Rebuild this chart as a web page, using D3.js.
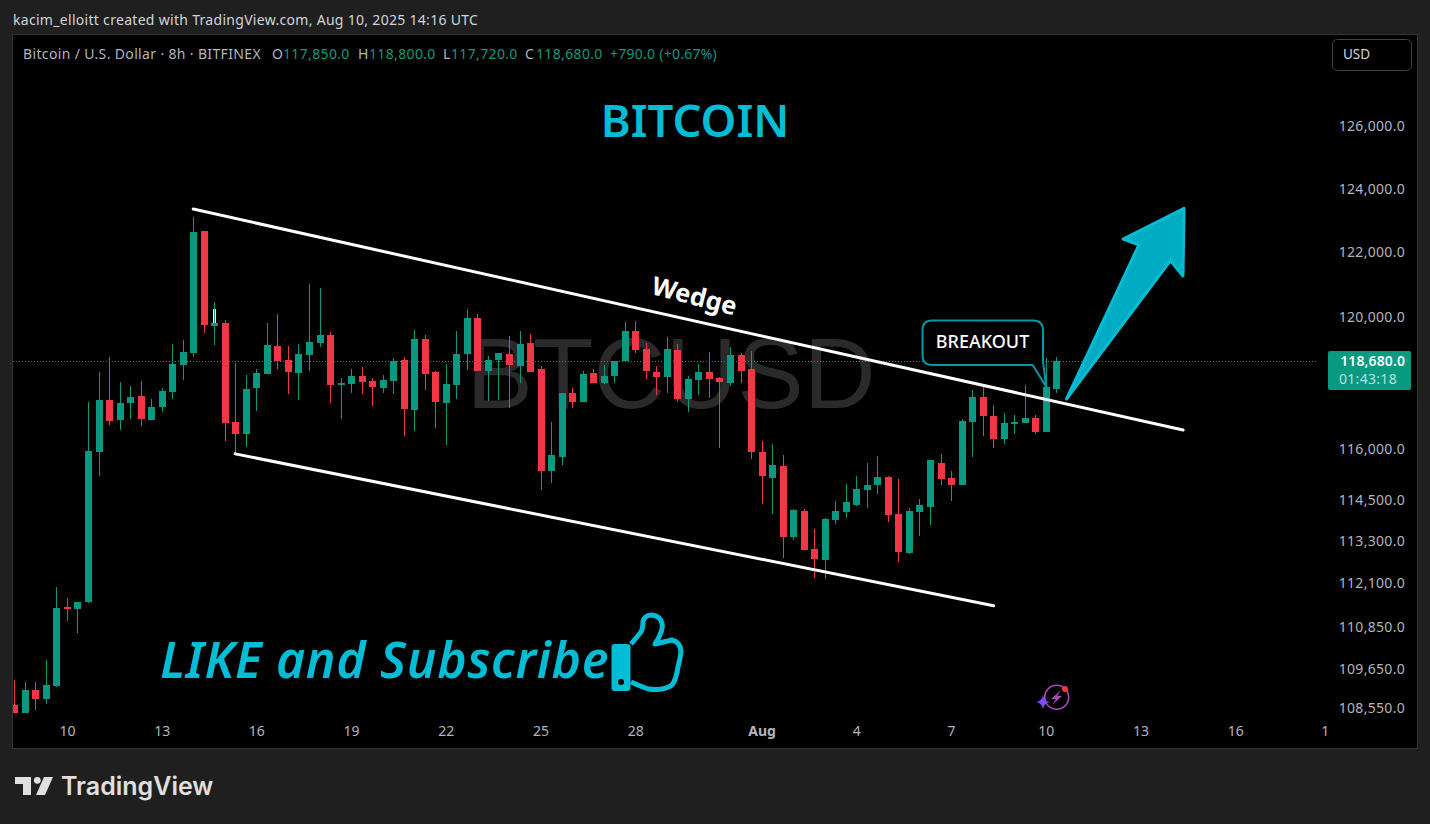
<!DOCTYPE html>
<html>
<head>
<meta charset="utf-8">
<script src="https://cdn.jsdelivr.net/npm/d3@7"></script>
<style>
    html, body { margin: 0; padding: 0; background: #1f1f1f; overflow: hidden; }
    svg { display: block; }
    text { font-family: "Noto Sans", sans-serif; }
</style>
</head>
<body>
<svg id="chart" width="1430" height="824"></svg>
<script>
// 8h candles, bar 0 is the one cut by the left edge
const opens = [
    108670,108450,109110,108860,109220,111450,111390,111590,115960,117510,
    116910,117420,117630,116910,117300,117750,118570,118930,122710,119760,
    119850,116850,116490,117870,118300,119150,118720,118330,118870,119240,
    119480,117990,117990,118230,118080,117870,118080,118720,117210,119360,
    118360,117420,117960,118900,120000,118390,118720,118900,118540,119240,
    118450,115390,115810,117720,117450,118330,118020,118230,118690,119600,
    119050,118360,118200,119020,117540,118110,118360,118170,118020,118870,
    118450,115960,115190,115540,113460,114220,113110,112800,113960,114190,
    114390,114830,114980,115220,114130,113000,114190,114340,115630,115190,
    114980,116850,117600,117030,116340,116790,116820,116970,116550,117850];
const highs = [
    109390,109330,109310,109950,112020,111710,111590,117450,118360,118810,
    118050,117930,118080,117540,117870,119210,119330,123150,122710,120500,
    119940,118630,118270,118450,119850,120130,119150,119210,121050,120930,
    119570,118170,118450,118510,118170,118270,118780,118810,119640,119480,
    118390,118600,119600,120280,120130,118840,118930,119450,119600,119510,
    118540,116850,117720,117870,118390,118450,118570,118690,119880,119910,
    119240,118540,119420,119210,118230,118600,118960,118200,119120,118930,
    118990,116280,116190,115870,114280,114280,113690,114020,114510,115010,
    115250,115630,115840,115250,115160,114310,114570,115720,115900,115390,
    116940,117810,117930,117360,117120,117060,117960,117060,118780,118800];
const lows = [
    108450,108450,108530,108700,109170,111050,110710,111560,115250,116760,
    116610,116940,116730,116910,117150,117540,118110,118810,119540,119180,
    116280,115900,116100,117180,118300,118450,117690,117510,118390,119120,
    117420,116940,117720,117690,117330,117720,117690,116430,116580,117810,
    116670,116160,117540,118420,118390,117480,117510,117270,118020,118360,
    114830,115040,115570,117270,117450,118020,117990,118020,118690,118930,
    118140,117660,117720,117450,117150,117660,117570,116070,117930,118020,
    115750,114420,114130,112850,113370,113080,112280,112250,113840,114020,
    114360,114310,114720,113900,112740,112970,113490,113810,114980,114510,
    114980,115810,116430,116070,116190,116490,116820,116490,116550,117720];
const closes = [
    108450,109110,108860,109250,111420,111390,111590,115990,117510,116880,
    117420,117600,116940,117300,117780,118600,118960,122670,119790,119850,
    116820,116490,117840,118330,119180,118690,118360,118900,119270,119480,
    117960,118020,118230,118050,117900,118110,118690,117240,119360,118300,
    117450,117990,118900,120000,118390,118720,118930,118570,119210,118360,
    115390,115870,117720,117450,118300,118020,118230,118690,119600,119020,
    118390,118200,119050,117540,118140,118360,118140,118050,118870,118390,
    115960,115250,115570,113460,114250,113080,112820,113990,114220,114480,
    114860,114980,115220,114100,113030,114220,114390,115720,115160,114980,
    116880,117600,117030,116340,116820,116850,116970,116550,117890,118680];

const priceTicks = [126000, 124000, 122000, 120000, 116000, 114500, 113300, 112100, 110850, 109650, 108550];
const timeTickBars = [5, 14, 23, 32, 41, 50, 59, 71, 80, 89, 98, 107, 116, 124.5];
const timeTickLabels = ["10", "13", "16", "19", "22", "25", "28", "Aug", "4", "7", "10", "13", "16", "1"];

// drawings, as [bar, price]
const wedgeTop = [[16.95, 123400], [111, 116610]];
const wedgeBottom = [[20.94, 115900], [93, 111480]];
const arrowShape = [[99.92, 117540], [106.8, 122270], [105.3, 122450], [111.09, 123420], [110.99, 121300], [109.8, 121780]];

const width = 1430, height = 824;
const pane = { left: 13, top: 35, right: 1417, bottom: 748, axis: 1317 };
const green = "#089981", red = "#f23645", cyan = "#00bcd4", axisGrey = "#b2b5be";

const svg = d3.select("#chart");
const fmt = d3.format(",.1f");

const x = d3.scaleLinear().domain([0, 99]).range([14.8, 1056.8]);
const y = d3.scaleLog().domain([108550, 126000]).range([709.7, 127.6]);
const last = closes.length - 1;

// pane
svg.append("rect").attr("x", pane.left - 0.5).attr("y", pane.top - 0.5)
    .attr("width", pane.right - pane.left + 1).attr("height", pane.bottom - pane.top + 1)
    .attr("fill", "#000").attr("stroke", "#333");

svg.append("defs").append("clipPath").attr("id", "plotClip").append("rect")
    .attr("x", pane.left).attr("y", pane.top)
    .attr("width", pane.axis - pane.left).attr("height", pane.bottom - pane.top);

// header texts
svg.append("text").attr("x", 13).attr("y", 25).attr("fill", "#d1d4dc").attr("font-size", 14)
    .attr("letter-spacing", 0.3)
    .text("kacim_elloitt created with TradingView.com, Aug 10, 2025 14:16 UTC");

const legend = svg.append("text").attr("x", 23).attr("y", 59).attr("font-size", 14)
    .attr("letter-spacing", 0.35).attr("fill", axisGrey);
legend.append("tspan").text("Bitcoin / U.S. Dollar · 8h · BITFINEX");
[["O", opens, 272], ["H", highs, 358], ["L", lows, 443], ["C", closes, 525]].forEach(d => {
    legend.append("tspan").attr("x", d[2]).text(d[0]);
    legend.append("tspan").attr("x", d[2] + (d[0] == "L" ? 8 : 11)).attr("fill", green).text(fmt(d[1][last]));
});
legend.append("tspan").attr("x", 610).attr("fill", green).attr("letter-spacing", 0.25)
    .text("+" + fmt(closes[last] - closes[last - 1]) + " (+0.67%)");

// watermark
svg.append("text").attr("x", 671).attr("y", 408).attr("text-anchor", "middle")
    .attr("font-size", 99.5).attr("fill", "#2a2a2a")
    .style("font-family", "Liberation Sans").text("BTCUSD");

const plot = svg.append("g").attr("clip-path", "url(#plotClip)");

// last price line
plot.append("line").attr("x1", pane.left).attr("x2", pane.axis + 11)
    .attr("y1", Math.floor(y(closes[last])) + 0.5).attr("y2", Math.floor(y(closes[last])) + 0.5)
    .attr("stroke", green).attr("stroke-dasharray", "1 2");

// candles
const candles = plot.selectAll("g.candle").data(d3.range(closes.length)).join("g").attr("class", "candle");
candles.append("rect")
    .attr("x", i => Math.floor(x(i)))
    .attr("y", i => Math.round(y(highs[i])))
    .attr("width", 1)
    .attr("height", i => Math.round(y(lows[i])) - Math.round(y(highs[i])))
    .attr("fill", i => closes[i] >= opens[i] ? green : red);
candles.append("rect")
    .attr("x", i => Math.floor(x(i)) - 3)
    .attr("y", i => Math.round(y(Math.max(opens[i], closes[i]))))
    .attr("width", 7)
    .attr("height", i => Math.max(2, Math.round(y(Math.min(opens[i], closes[i]))) - Math.round(y(Math.max(opens[i], closes[i])))))
    .attr("fill", i => closes[i] >= opens[i] ? green : red);

// white sliver above the doji at bar 19
plot.append("rect").attr("x", Math.floor(x(19)) - 1).attr("width", 3)
    .attr("y", y(120280)).attr("height", y(119850) - y(120280)).attr("fill", "#fff");
plot.append("rect").attr("x", Math.floor(x(19))).attr("width", 1)
    .attr("y", y(120280)).attr("height", y(119850) - y(120280)).attr("fill", green);

// drawings
const drawings = svg.append("g");
const lineGen = d3.line().x(d => x(d[0])).y(d => y(d[1]));
[wedgeTop, wedgeBottom].forEach(d => {
    drawings.append("path").attr("d", lineGen(d)).attr("fill", "none")
        .attr("stroke", "#fff").attr("stroke-width", 3).attr("stroke-linecap", "round");
});

drawings.append("path").attr("d", lineGen(arrowShape) + "Z")
    .attr("fill", "#00acc1").attr("stroke", cyan).attr("stroke-width", 3).attr("stroke-linejoin", "round");

// wedge label follows the line slope
const slope = Math.atan2(y(wedgeTop[1][1]) - y(wedgeTop[0][1]), x(wedgeTop[1][0]) - x(wedgeTop[0][0])) * 180 / Math.PI;
drawings.append("text").attr("transform", `translate(694.5,296) rotate(${slope + 2})`)
    .attr("text-anchor", "middle").attr("dy", "0.35em")
    .attr("font-size", 25.5).attr("font-weight", 700).attr("fill", "#fff").text("Wedge");

// callout
drawings.append("path")
    .attr("d", "M932,320.5H1033Q1043,320.5 1043,330.5V" + y(118680) + "L" + x(98) + "," + y(117900) +
        "L1032.7,365H932Q922.5,365 922.5,355V330.5Q922.5,320.5 932,320.5Z")
    .attr("fill", "#000").attr("stroke", "#0097a7").attr("stroke-width", 2);
drawings.append("text").attr("x", 982.5).attr("y", 347.5).attr("text-anchor", "middle")
    .attr("font-size", 18).attr("font-weight", 500).attr("fill", "#fff").text("BREAKOUT");

// big captions
drawings.append("text").attr("x", 695).attr("y", 137).attr("text-anchor", "middle")
    .attr("font-size", 45.5).attr("font-weight", 600).attr("fill", cyan).text("BITCOIN");
drawings.append("text").attr("x", 160).attr("y", 678).attr("font-size", 50).attr("font-weight", 600)
    .attr("letter-spacing", 0.7).attr("font-style", "italic").attr("fill", cyan).text("LIKE and Subscribe");

// thumb icon
drawings.append("path")
    .attr("d", "M631,644L641,632Q643,628 643,621Q645,615 652,615Q660,616 662,623Q664,630 655,644L672,640Q680,642 681,651" +
        "Q680,660 678,667Q676,680 672,685Q664,691 648,689Q640,686 631,682")
    .attr("fill", "none").attr("stroke", cyan).attr("stroke-width", 5).attr("stroke-linejoin", "round");
drawings.append("rect").attr("x", 611.5).attr("y", 644).attr("width", 19).attr("height", 47).attr("rx", 3).attr("fill", cyan);
drawings.append("circle").attr("cx", 621).attr("cy", 682).attr("r", 3).attr("fill", "#000");

// purple badge
const badge = svg.append("g");
badge.append("circle").attr("cx", 1056.7).attr("cy", 697.3).attr("r", 12).attr("fill", "none")
    .attr("stroke", "#ab47bc").attr("stroke-width", 1.6);
badge.append("path").attr("d", "M1061,690L1051,699H1056L1052,705L1062,696H1057Z").attr("fill", "#ab47bc");
badge.append("path").attr("d", "M1043,695Q1044,701 1050,702Q1044,703 1043,709Q1042,703 1036,702Q1042,701 1043,695Z").attr("fill", "#7c4dff");
badge.append("circle").attr("cx", 1065).attr("cy", 689).attr("r", 3).attr("fill", "#f23645");

// axes
const yAxis = svg.append("g").attr("transform", "translate(1405,-1.3)")
    .call(d3.axisRight(y).tickValues(priceTicks).tickFormat(fmt).tickSize(0).tickPadding(0));
yAxis.select(".domain").remove();
yAxis.selectAll("text").attr("text-anchor", "end").attr("fill", axisGrey).attr("font-size", 14)
    .attr("letter-spacing", 0.3).style("font-family", "Noto Sans");

const xAxis = svg.append("g").attr("transform", "translate(-0.5,726)")
    .call(d3.axisBottom(x).tickValues(timeTickBars).tickFormat((d, i) => timeTickLabels[i]).tickSize(0).tickPadding(0));
xAxis.select(".domain").remove();
xAxis.selectAll("text").attr("fill", axisGrey).attr("font-size", 14)
    .style("font-family", "Noto Sans")
    .attr("font-weight", d => d == 71 ? 700 : 400);

// USD button
svg.append("rect").attr("x", 1332.5).attr("y", 39.5).attr("width", 79).attr("height", 31).attr("rx", 5)
    .attr("fill", "#000").attr("stroke", "#434343");
svg.append("text").attr("x", 1343).attr("y", 59).attr("font-size", 13.5).attr("fill", "#d1d4dc").text("USD");

// last price tag
svg.append("rect").attr("x", 1328).attr("y", 351).attr("width", 83).attr("height", 39).attr("rx", 2).attr("fill", green);
svg.append("text").attr("x", 1405).attr("y", 366).attr("text-anchor", "end")
    .attr("font-size", 14).attr("font-weight", 600).attr("letter-spacing", 0.1).attr("fill", "#fff").text(fmt(closes[last]));
svg.append("text").attr("x", 1339).attr("y", 384)
    .attr("font-size", 14).attr("letter-spacing", 0.3).attr("fill", "#b5e3da").text("01:43:18");

// TradingView logo
const logo = svg.append("g").attr("fill", "#e0e0e0");
logo.append("path").attr("d", "M15,777H31V795H23V784H15Z");
logo.append("circle").attr("cx", 37.3).attr("cy", 780.3).attr("r", 3.4);
logo.append("path").attr("d", "M44,777H53L45,795H36Z");
logo.append("text").attr("x", 61).attr("y", 795).attr("font-size", 25).attr("font-weight", 600)
    .attr("fill", "#e0e0e0").style("font-family", "Inter").text("TradingView");
</script>
</body>
</html>
